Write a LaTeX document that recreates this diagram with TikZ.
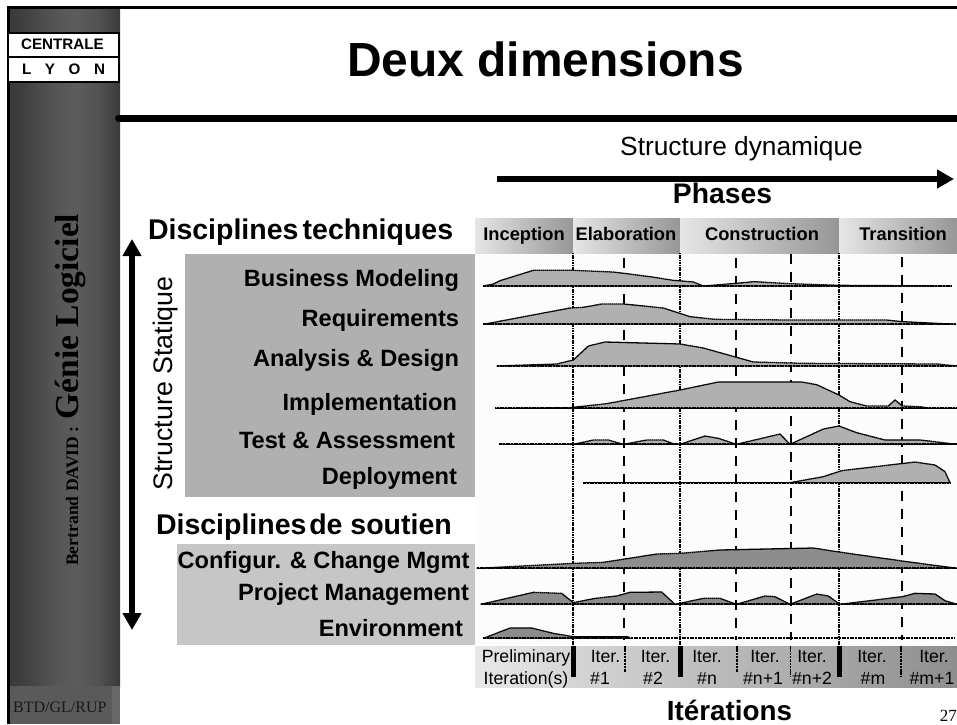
\documentclass[tikz,border=0pt]{standalone}
\usepackage{fontspec}
\setmainfont{Liberation Sans}
\newfontfamily\timesf{Liberation Serif}
\usetikzlibrary{arrows.meta}
\definecolor{sbdark}{HTML}{3A3A3A}
\definecolor{sbmid}{HTML}{5C5C5C}
\definecolor{sbflat}{HTML}{5A5A5A}
\definecolor{grpa}{HTML}{B0B0B0}
\definecolor{grpb}{HTML}{C6C6C6}
\definecolor{hdl}{HTML}{E6E6E6}
\definecolor{hdm}{HTML}{CFCFCF}
\definecolor{hdr}{HTML}{969696}
\definecolor{bdl}{HTML}{E8E8E8}
\definecolor{bdr}{HTML}{8E8E8E}
\definecolor{profa}{HTML}{B0B0B0}
\definecolor{profb}{HTML}{8C8C8C}
\definecolor{chartbg}{HTML}{FCFCFC}
\pgfdeclarehorizontalshading{sidebar}{100bp}{color(0bp)=(sbdark);color(25bp)=(sbdark);color(31bp)=(sbdark!85!sbmid);color(45bp)=(sbmid!80!sbdark);color(55bp)=(sbmid);color(65bp)=(sbmid!70!sbdark);color(75bp)=(sbdark);color(100bp)=(sbdark)}
\newcommand{\fs}[1]{\fontsize{#1}{#1}\selectfont}
\tikzset{
  lab/.style={inner sep=0pt,outer sep=0pt,font=\bfseries\fs{23.6}},
  rowlab/.style={lab,anchor=base east},
  head/.style={lab,font=\bfseries\fs{28.5},anchor=base west},
  phaselab/.style={lab,font=\bfseries\fs{18.3},anchor=base},
  iterlab/.style={inner sep=0pt,font=\fs{17.7},anchor=base},
  hdshade/.style={left color=hdl,middle color=hdm,right color=hdr},
  vsolid/.style={line width=2pt,dash pattern=on 1.2pt off .5pt},
  vdash/.style={line width=2pt,dash pattern=on 10pt off 8pt},
  vthin/.style={line width=1.4pt,dash pattern=on 2.5pt off .8pt},
  vbar/.style={line width=5pt},
  basel/.style={line width=2pt,dash pattern=on 1.2pt off .4pt},
  profA/.style={fill=profa,draw=black,line width=1.3pt,dash pattern=on 1.6pt off .4pt},
  profB/.style={fill=profb,draw=black,line width=1.3pt,dash pattern=on 1.6pt off .4pt},
  zoomA/.style={shift={(470,210)},x=.33333pt,y=-.33333pt},
  zoomB/.style={shift={(470,370)},x=.33333pt,y=-.33333pt},
  zoomC/.style={shift={(470,530)},x=.33333pt,y=-.33333pt},
  fatarrow/.style={line width=6.4pt},
}
\begin{document}
\begin{tikzpicture}[x=1pt,y=-1pt]
\useasboundingbox (0,0) rectangle (957,724);
\fill[white] (0,0) rectangle (957,724);
% sidebar
\shade[shading=sidebar] (10,8) rectangle (120,686);
\fill[sbflat] (10,686) rectangle (120,724);
\fill[white!8!sbflat] (112,686) rectangle (120,724);
\fill[black] (7,6) rectangle (957,8.8);
\fill[black] (7,6) rectangle (10,724);
\draw[black,line width=7pt,line cap=round] (118.5,118.3) -- (957,118.3);
% logo
\draw[black,line width=2pt,fill=white] (7.5,32.5) rectangle (118.5,81.5);
\draw[black,line width=2pt] (7.5,56.5) -- (118.5,56.5);
\node[inner sep=0pt,anchor=base,font=\bfseries\fs{15.2}] (logoa) at (62.5,49.5) {CENTRALE};
\node[inner sep=0pt,anchor=base,font=\bfseries\fs{15.2}] (logob) at (63.5,74) {\makebox[83pt]{L\hfill Y\hfill O\hfill N}};
\node[inner sep=0pt,anchor=base west,rotate=90,text=black] (author) at (78,566) {\timesf\bfseries{\fs{17.6}Bertrand DAVID :}\hspace{7pt}{\fs{33.5}Génie Logiciel}};
\node[inner sep=0pt,anchor=base west,font=\timesf\fs{16},text=black!90] (code) at (13,712) {BTD/GL/RUP};
% title
\node[inner sep=0pt,anchor=base,font=\bfseries\fs{47.9}] (title) at (545.5,76.7) {Deux dimensions};
% group backgrounds
\fill[grpa] (185,254) rectangle (475,497);
\fill[grpb] (177,544) rectangle (475,645);
% chart background
\fill[chartbg] (475,253) rectangle (957,646);
% phase header
\shade[hdshade] (475,218) rectangle (573,253);
\shade[hdshade] (573,218) rectangle (680,253);
\shade[hdshade] (680,218) rectangle (839,253);
\shade[hdshade] (839,218) rectangle (957,253);
\node[phaselab] (ph1) at (524,240) {Inception};
\node[phaselab] (ph2) at (626,240) {Elaboration};
\node[phaselab] (ph3) at (762,240) {Construction};
\node[phaselab] (ph4) at (903,240) {Transition};
% iteration band
\shade[left color=bdl,right color=bdr] (475,646) rectangle (957,687);
% verticals
\foreach \x in {573,680,839} \draw[vsolid] (\x,253) -- (\x,646);
\foreach \x/\y in {624/258,736/258,790.5/254,902/257} \draw[vdash] (\x,\y) -- (\x,640);
\foreach \x in {573,680,839} \draw[vbar] (\x,646) -- (\x,677);
\draw[vthin] (625,646) -- (625,672);
\draw[vthin] (737,646) -- (737,672);
\draw[vthin] (790.5,646) -- (790.5,677);
\draw[vthin] (901,646) -- (901,677);
% profiles
\begin{scope}[zoomA]
\filldraw[profA] (40,228) -- (70,222) -- (90,212) -- (190,181) -- (310,181) -- (430,186) -- (540,200) -- (610,211) -- (670,216) -- (700,228) -- (800,220) -- (850,215) -- (960,221) -- (1110,226) -- (1445,228) -- cycle;
\draw[basel] (40,228) -- (1445,228);
\filldraw[profA] (40,343) -- (300,294) -- (340,292) -- (395,282) -- (462,282) -- (580,294) -- (660,320) -- (735,328) -- (960,330) -- (1250,330) -- (1297,335) -- (1458,343) -- cycle;
\draw[basel] (40,343) -- (1458,343);
\filldraw[profA] (80,468) -- (260,462) -- (310,450) -- (355,408) -- (405,396) -- (630,402) -- (700,414) -- (850,456) -- (1000,460) -- (1400,462) -- (1461,468) -- cycle;
\draw[basel] (80,468) -- (1461,468);
\end{scope}
\begin{scope}[zoomB]
\filldraw[profA] (75,115) -- (300,113) -- (410,101) -- (630,60) -- (745,36) -- (995,36) -- (1040,44) -- (1107,75) -- (1140,95) -- (1190,108) -- (1255,108) -- (1275,90) -- (1297,108) -- (1350,110) -- (1380,115) -- (1461,115) -- cycle;
\draw[basel] (75,115) -- (1461,115);
\filldraw[profA] (88,223) -- (310,223) -- (370,210) -- (415,210) -- (460,223) -- (530,210) -- (580,210) -- (615,223) -- (630,223) -- (705,198) -- (745,205) -- (799,223) -- (930,192) -- (960,223) -- (1060,177) -- (1107,168) -- (1160,188) -- (1245,210) -- (1350,210) -- (1461,223) -- cycle;
\draw[basel] (88,223) -- (1461,223);
\filldraw[profA] (340,338) -- (960,338) -- (1060,320) -- (1115,302) -- (1335,276) -- (1395,285) -- (1425,305) -- (1440,338) -- cycle;
\draw[basel] (340,338) -- (1440,338);
\end{scope}
\begin{scope}[zoomC]
\filldraw[profB] (20,115) -- (310,100) -- (400,97) -- (560,72) -- (630,70) -- (750,60) -- (1030,54) -- (1107,66) -- (1297,93) -- (1461,115) -- cycle;
\draw[basel] (20,115) -- (1461,115);
\filldraw[profB] (32,223) -- (190,187) -- (275,190) -- (310,218) -- (375,205) -- (440,198) -- (480,187) -- (575,186) -- (615,223) -- (700,205) -- (750,205) -- (799,223) -- (885,198) -- (915,200) -- (960,223) -- (1040,192) -- (1075,198) -- (1110,223) -- (1297,200) -- (1335,190) -- (1395,192) -- (1425,212) -- (1461,223) -- cycle;
\draw[basel] (32,223) -- (1461,223);
\filldraw[profB] (40,325) -- (120,294) -- (185,294) -- (250,310) -- (310,320) -- (475,320) -- (480,325) -- cycle;
\draw[basel] (40,325) -- (1456,325);
\end{scope}
% iteration labels
\node[iterlab] (p1) at (526,662.5) {Preliminary};
\node[iterlab] (p2) at (526,684) {Iteration(s)};
\node[iterlab] (i1a) at (605.5,662.5) {Iter.};
\node[iterlab] (i1b) at (600,684) {\#1};
\node[iterlab] (i2a) at (655.5,662.5) {Iter.};
\node[iterlab] (i2b) at (653,684) {\#2};
\node[iterlab] (i3a) at (707,662.5) {Iter.};
\node[iterlab] (i3b) at (707,684) {\#n};
\node[iterlab] (i4a) at (765,662.5) {Iter.};
\node[iterlab] (i4b) at (763,684) {\#n+1};
\node[iterlab] (i5a) at (812,662.5) {Iter.};
\node[iterlab] (i5b) at (812,684) {\#n+2};
\node[iterlab] (i6a) at (872,662.5) {Iter.};
\node[iterlab] (i6b) at (873,684) {\#m};
\node[iterlab] (i7a) at (934,662.5) {Iter.};
\node[iterlab] (i7b) at (932,684) {\#m+1};
% left labels
\node[head] (dt) at (148,239) {Disciplines\hspace{.15em}techniques};
\node[head] (ds) at (156,534) {Disciplines\hspace{.1em}de soutien};
\node[rowlab] (r1) at (459,286.7) {Business Modeling};
\node[rowlab] (r2) at (459,326.7) {Requirements};
\node[rowlab] (r3) at (459,366.7) {Analysis \& Design};
\node[rowlab] (r4) at (457,410) {Implementation};
\node[rowlab] (r5) at (455,448) {Test \& Assessment};
\node[rowlab] (r6) at (457,484) {Deployment};
\node[rowlab] (r7) at (469.5,568) {Configur. \& Change Mgmt};
\node[rowlab] (r8) at (469,600.7) {Project Management};
\node[rowlab] (r9) at (463,636.7) {Environment};
\node[inner sep=0pt,anchor=base west,rotate=90,font=\fs{26.8}] (ss) at (172,491) {Structure Statique};
\node[inner sep=0pt,anchor=base west,font=\fs{26.3}] (sd) at (620,155) {Structure dynamique};
\node[inner sep=0pt,anchor=base,font=\bfseries\fs{28.3}] (phases) at (722.5,203) {Phases};
\node[inner sep=0pt,anchor=base,font=\bfseries\fs{27.8}] (iters) at (729.5,720) {Itérations};
\node[inner sep=0pt,anchor=base east,font=\timesf\fs{17}] (pg) at (957,721.5) {27};
% arrows
\coordinate (vt) at (132,239);
\coordinate (vb) at (132,630);
\coordinate (hl) at (497,179);
\coordinate (hr) at (954,179);
\draw[fatarrow,{Triangle[length=17pt,width=18pt]}-{Triangle[length=17pt,width=18pt]}] (vt) -- (vb);
\draw[fatarrow,-{Triangle[length=17pt,width=18pt]}] (hl) -- (hr);
\end{tikzpicture}
\end{document}
